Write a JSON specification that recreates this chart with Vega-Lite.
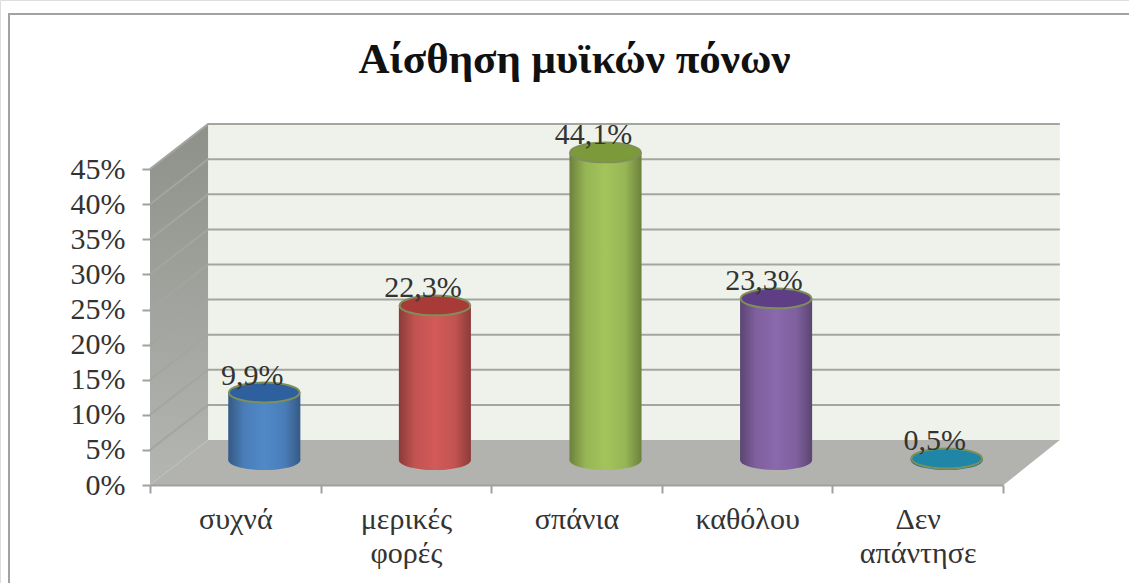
{
  "$schema": "https://vega.github.io/schema/vega-lite/v6.json",
  "width": 1129,
  "height": 583,
  "padding": 0,
  "autosize": {"type": "none"},
  "background": "#ffffff",
  "title": {"text": "Αίσθηση μυϊκών πόνων", "font": "Liberation Serif", "fontSize": 43, "fontWeight": "bold", "color": "#111111", "anchor": "middle", "dx": 10, "offset": -82},
  "datasets": {
    "answers": [
      {"answer": "συχνά", "value": 9.9, "label": "9,9%"},
      {"answer": "μερικές φορές", "value": 22.3, "label": "22,3%"},
      {"answer": "σπάνια", "value": 44.1, "label": "44,1%"},
      {"answer": "καθόλου", "value": 23.3, "label": "23,3%"},
      {"answer": "Δεν απάντησε", "value": 0.5, "label": "0,5%"}
    ],
    "frame": [
      {"u": -0.826, "v": -13.96},
      {"u": -0.826, "v": 67.09},
      {"u": 5.7352, "v": 67.09}
    ],
    "backWall": [
      {"u": 0.34, "low": 6.41, "high": 51.41},
      {"u": 5.33, "low": 6.41, "high": 51.41}
    ],
    "sideWall": [
      {"u": 0, "low": 0, "high": 45},
      {"u": 0.34, "low": 6.41, "high": 51.41}
    ],
    "floor": [
      {"u": 0, "low": 0, "high": 0},
      {"u": 0.34, "low": 0, "high": 6.41},
      {"u": 5, "low": 0, "high": 6.41},
      {"u": 5.33, "low": 6.41, "high": 6.41}
    ],
    "gridlines": [
      {"level": 5, "u": 0, "v": 5}, {"level": 5, "u": 0.34, "v": 11.41}, {"level": 5, "u": 5.33, "v": 11.41},
      {"level": 10, "u": 0, "v": 10}, {"level": 10, "u": 0.34, "v": 16.41}, {"level": 10, "u": 5.33, "v": 16.41},
      {"level": 15, "u": 0, "v": 15}, {"level": 15, "u": 0.34, "v": 21.41}, {"level": 15, "u": 5.33, "v": 21.41},
      {"level": 20, "u": 0, "v": 20}, {"level": 20, "u": 0.34, "v": 26.41}, {"level": 20, "u": 5.33, "v": 26.41},
      {"level": 25, "u": 0, "v": 25}, {"level": 25, "u": 0.34, "v": 31.41}, {"level": 25, "u": 5.33, "v": 31.41},
      {"level": 30, "u": 0, "v": 30}, {"level": 30, "u": 0.34, "v": 36.41}, {"level": 30, "u": 5.33, "v": 36.41},
      {"level": 35, "u": 0, "v": 35}, {"level": 35, "u": 0.34, "v": 41.41}, {"level": 35, "u": 5.33, "v": 41.41},
      {"level": 40, "u": 0, "v": 40}, {"level": 40, "u": 0.34, "v": 46.41}, {"level": 40, "u": 5.33, "v": 46.41},
      {"level": 45, "u": 0, "v": 45}, {"level": 45, "u": 0.34, "v": 51.41}, {"level": 45, "u": 5.33, "v": 51.41}
    ]
  },
  "resolve": {"scale": {"x": "independent", "color": "independent"}},
  "layer": [
    {
      "data": {"name": "frame"},
      "mark": {"type": "line", "color": "#a2a2a2", "strokeWidth": 2},
      "encoding": {
        "x": {"field": "u", "type": "quantitative", "scale": {"domain": [-0.8787, 5.7352], "nice": false, "zero": false}, "axis": null},
        "y": {
          "field": "v", "type": "quantitative", "sort": null,
          "scale": {"domain": [-13.96, 69.09], "nice": false, "zero": false},
          "axis": {
            "title": null, "values": [0, 5, 10, 15, 20, 25, 30, 35, 40, 45], "labelExpr": "datum.value + '%'",
            "offset": -150, "domain": false, "grid": false, "tickSize": 8, "tickWidth": 2, "tickColor": "#a0a0a0",
            "labelFont": "Liberation Serif", "labelFontSize": 30, "labelColor": "#333333", "labelPadding": 17, "labelOverlap": false, "zindex": 1
          }
        }
      }
    },
    {
      "data": {"name": "backWall"},
      "mark": {"type": "area", "fill": "#eef2ea"},
      "encoding": {
        "x": {"field": "u", "type": "quantitative", "scale": {"domain": [-0.8787, 5.7352], "nice": false, "zero": false}, "axis": null},
        "y": {"field": "low", "type": "quantitative", "stack": null},
        "y2": {"field": "high"}
      }
    },
    {
      "data": {"name": "sideWall"},
      "mark": {
        "type": "area",
        "fill": {"gradient": "linear", "x1": 0, "y1": 0, "x2": 0, "y2": 1, "stops": [{"offset": 0, "color": "#8e908a"}, {"offset": 1, "color": "#b4b6b2"}]}
      },
      "encoding": {
        "x": {"field": "u", "type": "quantitative", "scale": {"domain": [-0.8787, 5.7352], "nice": false, "zero": false}, "axis": null},
        "y": {"field": "low", "type": "quantitative", "stack": null},
        "y2": {"field": "high"}
      }
    },
    {
      "data": {"name": "floor"},
      "mark": {"type": "area", "fill": "#b2b3af"},
      "encoding": {
        "x": {"field": "u", "type": "quantitative", "scale": {"domain": [-0.8787, 5.7352], "nice": false, "zero": false}, "axis": null},
        "y": {"field": "low", "type": "quantitative", "stack": null},
        "y2": {"field": "high"}
      }
    },
    {
      "data": {"name": "gridlines"},
      "mark": {"type": "line", "color": "#a3a69f", "strokeWidth": 2},
      "encoding": {
        "x": {"field": "u", "type": "quantitative", "scale": {"domain": [-0.8787, 5.7352], "nice": false, "zero": false}, "axis": null},
        "y": {"field": "v", "type": "quantitative"},
        "detail": {"field": "level"}
      }
    },
    {
      "data": {"name": "answers"},
      "resolve": {"scale": {"color": "independent", "fill": "independent"}},
      "encoding": {
        "x": {
          "field": "answer", "type": "nominal",
          "scale": {"type": "band", "domain": ["συχνά", "μερικές φορές", "σπάνια", "καθόλου", "Δεν απάντησε"], "range": [150, 1003], "paddingInner": 0, "paddingOuter": 0},
          "axis": {
            "title": null, "orient": "bottom", "offset": -98, "tickBand": "extent", "tickSize": 8, "tickWidth": 2, "tickColor": "#a0a0a0",
            "domainColor": "#a0a0a0", "domainWidth": 2, "labelAngle": 0, "labelAlign": "center", "labelBaseline": "top",
            "labelFont": "Liberation Serif", "labelFontSize": 30, "labelColor": "#333333", "labelPadding": 11, "labelLineHeight": 34,
            "labelExpr": "split(datum.label, ' ')", "labelOverlap": false, "labelLimit": 0, "zindex": 1
          }
        }
      },
      "layer": [
        {
          "mark": {"type": "point", "filled": true, "opacity": 1, "shape": "M-1,0A1,0.28,0,1,1,1,0A1,0.28,0,1,1,-1,0Z", "size": 5184, "xOffset": 29, "yOffset": -25},
          "encoding": {
            "y": {"datum": 0, "type": "quantitative"},
            "color": {"field": "answer", "type": "nominal", "legend": null, "scale": {"domain": ["συχνά", "μερικές φορές", "σπάνια", "καθόλου", "Δεν απάντησε"], "range": ["#5088c8", "#d25a58", "#a3c45c", "#8a68ac", "#2c8fa8"]}}
          }
        },
        {
          "mark": {
            "type": "point", "filled": true, "opacity": 1, "shape": "M-1,0A1,0.28,0,1,1,1,0A1,0.28,0,1,1,-1,0Z", "size": 5184, "xOffset": 29, "yOffset": -25,
            "fill": {"gradient": "linear", "x1": 0, "y1": 0, "x2": 1, "y2": 0, "stops": [{"offset": 0, "color": "rgba(0,0,0,0.34)"}, {"offset": 0.22, "color": "rgba(0,0,0,0.08)"}, {"offset": 0.5, "color": "rgba(0,0,0,0)"}, {"offset": 0.78, "color": "rgba(0,0,0,0.08)"}, {"offset": 1, "color": "rgba(0,0,0,0.34)"}]}
          },
          "encoding": {
            "y": {"datum": 0, "type": "quantitative"}
          }
        },
        {
          "mark": {"type": "bar", "width": 72, "xOffset": 29, "yOffset": -23, "y2Offset": -25},
          "encoding": {
            "y": {"field": "value", "type": "quantitative", "stack": null},
            "y2": {"datum": 0},
            "color": {"field": "answer", "type": "nominal", "legend": null, "scale": {"domain": ["συχνά", "μερικές φορές", "σπάνια", "καθόλου", "Δεν απάντησε"], "range": ["#5088c8", "#d25a58", "#a3c45c", "#8a68ac", "#2c8fa8"]}}
          }
        },
        {
          "mark": {
            "type": "bar", "width": 72, "xOffset": 29, "yOffset": -23, "y2Offset": -25,
            "fill": {"gradient": "linear", "x1": 0, "y1": 0, "x2": 1, "y2": 0, "stops": [{"offset": 0, "color": "rgba(0,0,0,0.34)"}, {"offset": 0.22, "color": "rgba(0,0,0,0.08)"}, {"offset": 0.5, "color": "rgba(0,0,0,0)"}, {"offset": 0.78, "color": "rgba(0,0,0,0.08)"}, {"offset": 1, "color": "rgba(0,0,0,0.34)"}]}
          },
          "encoding": {
            "y": {"field": "value", "type": "quantitative", "stack": null},
            "y2": {"datum": 0}
          }
        },
        {
          "mark": {"type": "point", "filled": true, "opacity": 1, "shape": "M-1,0A1,0.28,0,1,1,1,0A1,0.28,0,1,1,-1,0Z", "size": 5000, "xOffset": 29, "yOffset": -23, "stroke": "#7f8f5a", "strokeWidth": 2},
          "encoding": {
            "y": {"field": "value", "type": "quantitative"},
            "fill": {"field": "answer", "type": "nominal", "legend": null, "scale": {"domain": ["συχνά", "μερικές φορές", "σπάνια", "καθόλου", "Δεν απάντησε"], "range": ["#2e5f9e", "#a83a38", "#7d9a3a", "#5e3f85", "#1f86a8"]}}
          }
        },
        {
          "mark": {"type": "text", "font": "Liberation Serif", "fontSize": 30, "color": "#333333", "baseline": "middle", "align": "center", "xOffset": 17, "yOffset": -40},
          "encoding": {
            "y": {"field": "value", "type": "quantitative"},
            "text": {"field": "label"}
          }
        }
      ]
    }
  ]
}
